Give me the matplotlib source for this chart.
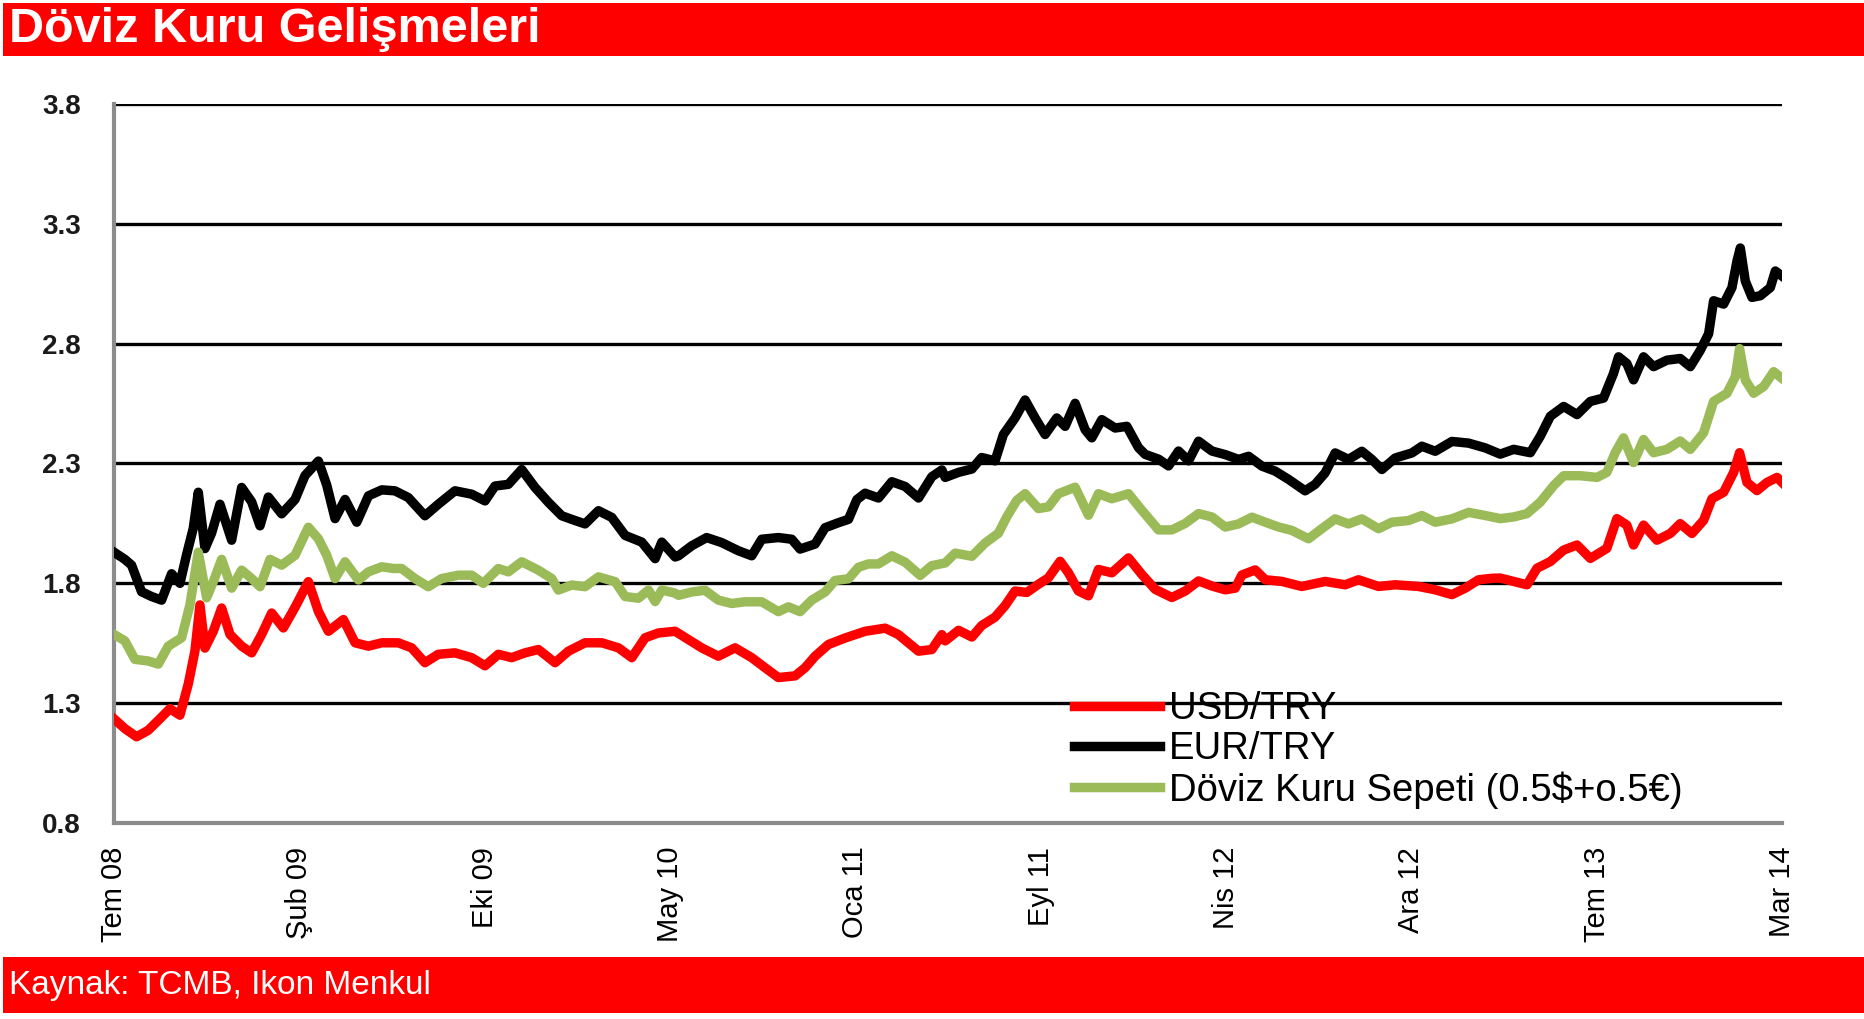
import matplotlib.pyplot as plt
from matplotlib.patches import Rectangle

plt.rcParams['font.family'] = ['Liberation Sans', 'DejaVu Sans']

# x ekseni: 0..9 arası, her birim bir etiket aralığı
etiketler = ['Tem 08', 'Şub 09', 'Eki 09', 'May 10', 'Oca 11',
             'Eyl 11', 'Nis 12', 'Ara 12', 'Tem 13', 'Mar 14']
yticks = [0.8, 1.3, 1.8, 2.3, 2.8, 3.3, 3.8]

# EUR/TRY
eur_t = [0.0, 0.059, 0.095, 0.149, 0.203, 0.257, 0.311, 0.356, 0.392, 0.428, 0.455, 0.491, 0.527, 0.572,
         0.635, 0.689, 0.743, 0.788, 0.833, 0.905, 0.977, 1.031, 1.103, 1.148, 1.193, 1.247, 1.310, 1.373,
         1.445, 1.516, 1.588, 1.678, 1.750, 1.840, 1.930, 2.002, 2.056, 2.128, 2.200, 2.272, 2.344, 2.416,
         2.488, 2.542, 2.614, 2.686, 2.758, 2.848, 2.920, 2.956, 3.028, 3.046, 3.118, 3.198, 3.279, 3.369,
         3.441, 3.495, 3.585, 3.657, 3.702, 3.783, 3.837, 3.909, 3.963, 4.008, 4.053, 4.125, 4.197, 4.269,
         4.341, 4.413, 4.467, 4.485, 4.557, 4.629, 4.682, 4.754, 4.799, 4.862, 4.916, 4.970, 5.024, 5.087,
         5.132, 5.186, 5.240, 5.276, 5.330, 5.402, 5.465, 5.528, 5.564, 5.636, 5.690, 5.744, 5.798, 5.852,
         5.924, 5.996, 6.068, 6.122, 6.194, 6.266, 6.337, 6.427, 6.481, 6.535, 6.589, 6.661, 6.733, 6.787,
         6.841, 6.913, 7.003, 7.057, 7.129, 7.219, 7.309, 7.399, 7.480, 7.552, 7.642, 7.696, 7.750, 7.822,
         7.894, 7.966, 8.037, 8.091, 8.118, 8.163, 8.199, 8.253, 8.307, 8.379, 8.451, 8.505, 8.559, 8.604,
         8.631, 8.685, 8.730, 8.757, 8.775, 8.802, 8.838, 8.883, 8.937, 8.964, 9.0]
eur = [1.93, 1.90, 1.876, 1.765, 1.745, 1.73, 1.84, 1.80, 1.92, 2.03, 2.18, 1.945, 2.01, 2.13,
       1.98, 2.20, 2.14, 2.04, 2.16, 2.09, 2.15, 2.25, 2.31, 2.21, 2.07, 2.15, 2.055, 2.165,
       2.19, 2.186, 2.158, 2.082, 2.13, 2.186, 2.172, 2.144, 2.206, 2.213, 2.275, 2.20, 2.138, 2.082,
       2.062, 2.048, 2.103, 2.075, 2.0, 1.972, 1.903, 1.972, 1.91, 1.915, 1.957, 1.991, 1.97, 1.936,
       1.915, 1.984, 1.991, 1.984, 1.943, 1.964, 2.032, 2.053, 2.067, 2.149, 2.176, 2.156, 2.224, 2.204,
       2.156, 2.245, 2.273, 2.242, 2.263, 2.277, 2.325, 2.311, 2.421, 2.49, 2.565, 2.49, 2.421, 2.49,
       2.455, 2.551, 2.441, 2.407, 2.483, 2.448, 2.455, 2.366, 2.338, 2.318, 2.29, 2.352, 2.311, 2.393,
       2.352, 2.337, 2.317, 2.33, 2.289, 2.268, 2.234, 2.186, 2.213, 2.261, 2.344, 2.317, 2.351, 2.317,
       2.275, 2.323, 2.344, 2.372, 2.351, 2.392, 2.385, 2.365, 2.339, 2.359, 2.345, 2.414, 2.497, 2.538,
       2.504, 2.559, 2.573, 2.676, 2.745, 2.717, 2.649, 2.745, 2.704, 2.731, 2.738, 2.704, 2.772, 2.841,
       2.979, 2.965, 3.034, 3.144, 3.199, 3.061, 2.993, 3.0, 3.034, 3.103, 3.082]

# Döviz kuru sepeti
sepet_t = [0.0, 0.059, 0.113, 0.185, 0.239, 0.293, 0.365, 0.410, 0.455, 0.500, 0.536, 0.581, 0.635, 0.689,
           0.743, 0.788, 0.842, 0.905, 0.977, 1.049, 1.103, 1.148, 1.193, 1.247, 1.319, 1.373, 1.445, 1.508,
           1.552, 1.624, 1.696, 1.768, 1.858, 1.930, 1.993, 2.074, 2.128, 2.200, 2.290, 2.362, 2.398, 2.470,
           2.542, 2.614, 2.704, 2.758, 2.830, 2.884, 2.920, 2.956, 3.028, 3.046, 3.118, 3.189, 3.261, 3.333,
           3.405, 3.495, 3.585, 3.639, 3.702, 3.765, 3.837, 3.891, 3.963, 4.017, 4.071, 4.125, 4.197, 4.269,
           4.350, 4.413, 4.485, 4.539, 4.629, 4.700, 4.772, 4.817, 4.871, 4.916, 4.988, 5.042, 5.096, 5.186,
           5.258, 5.312, 5.384, 5.474, 5.546, 5.636, 5.708, 5.780, 5.852, 5.924, 5.996, 6.068, 6.140, 6.212,
           6.284, 6.355, 6.445, 6.517, 6.589, 6.661, 6.733, 6.823, 6.895, 6.985, 7.057, 7.129, 7.219, 7.309,
           7.399, 7.480, 7.552, 7.624, 7.696, 7.768, 7.822, 7.912, 8.002, 8.055, 8.100, 8.145, 8.199, 8.253,
           8.307, 8.379, 8.451, 8.505, 8.577, 8.631, 8.703, 8.748, 8.771, 8.802, 8.847, 8.901, 8.955, 9.0]
sepet = [1.587, 1.56, 1.483, 1.476, 1.463, 1.538, 1.573, 1.71, 1.93, 1.74, 1.807, 1.90, 1.78, 1.855,
         1.82, 1.786, 1.90, 1.876, 1.917, 2.034, 1.986, 1.917, 1.82, 1.89, 1.814, 1.848, 1.869, 1.862,
         1.862, 1.82, 1.786, 1.82, 1.834, 1.834, 1.80, 1.862, 1.848, 1.89, 1.855, 1.82, 1.772, 1.793,
         1.786, 1.827, 1.807, 1.745, 1.738, 1.772, 1.724, 1.772, 1.759, 1.75, 1.764, 1.771, 1.73, 1.716,
         1.723, 1.723, 1.682, 1.702, 1.682, 1.73, 1.764, 1.812, 1.819, 1.867, 1.881, 1.881, 1.915, 1.888,
         1.833, 1.874, 1.885, 1.926, 1.913, 1.968, 2.009, 2.077, 2.146, 2.174, 2.112, 2.119, 2.174, 2.201,
         2.084, 2.174, 2.153, 2.174, 2.105, 2.023, 2.023, 2.05, 2.091, 2.077, 2.035, 2.048, 2.076, 2.055,
         2.035, 2.021, 1.986, 2.028, 2.069, 2.048, 2.069, 2.028, 2.055, 2.062, 2.083, 2.055, 2.069, 2.096,
         2.083, 2.07, 2.077, 2.091, 2.139, 2.208, 2.249, 2.249, 2.242, 2.263, 2.345, 2.407, 2.304, 2.40,
         2.345, 2.359, 2.394, 2.359, 2.428, 2.559, 2.593, 2.662, 2.779, 2.648, 2.593, 2.621, 2.683, 2.655]

# USD/TRY
usd_t = [0.0, 0.059, 0.122, 0.185, 0.248, 0.302, 0.356, 0.401, 0.437, 0.464, 0.491, 0.536, 0.581, 0.626,
         0.689, 0.743, 0.797, 0.851, 0.914, 0.977, 1.049, 1.103, 1.157, 1.238, 1.301, 1.373, 1.445, 1.534,
         1.606, 1.678, 1.750, 1.840, 1.930, 2.002, 2.074, 2.146, 2.218, 2.290, 2.380, 2.452, 2.542, 2.632,
         2.722, 2.794, 2.866, 2.938, 3.028, 3.100, 3.171, 3.261, 3.351, 3.441, 3.513, 3.585, 3.675, 3.729,
         3.783, 3.855, 3.945, 4.053, 4.161, 4.233, 4.341, 4.413, 4.467, 4.485, 4.557, 4.629, 4.682, 4.754,
         4.808, 4.862, 4.925, 4.988, 5.042, 5.105, 5.150, 5.204, 5.258, 5.312, 5.384, 5.474, 5.546, 5.618,
         5.708, 5.780, 5.852, 5.924, 5.996, 6.050, 6.086, 6.158, 6.212, 6.302, 6.409, 6.535, 6.643, 6.715,
         6.823, 6.913, 7.039, 7.129, 7.219, 7.291, 7.363, 7.435, 7.480, 7.552, 7.624, 7.678, 7.750, 7.822,
         7.894, 7.966, 8.055, 8.109, 8.163, 8.199, 8.253, 8.325, 8.397, 8.451, 8.514, 8.577, 8.622, 8.685,
         8.739, 8.771, 8.811, 8.865, 8.919, 8.973, 9.0]
usd = [1.235, 1.194, 1.16, 1.187, 1.235, 1.277, 1.25, 1.38, 1.518, 1.71, 1.53, 1.60, 1.697, 1.587,
       1.538, 1.51, 1.587, 1.676, 1.614, 1.70, 1.807, 1.683, 1.60, 1.649, 1.552, 1.538, 1.552, 1.552,
       1.531, 1.469, 1.504, 1.51, 1.49, 1.456, 1.504, 1.49, 1.51, 1.524, 1.469, 1.517, 1.552, 1.552,
       1.531, 1.49, 1.573, 1.593, 1.60, 1.565, 1.531, 1.496, 1.531, 1.49, 1.448, 1.407, 1.414, 1.448,
       1.496, 1.545, 1.572, 1.60, 1.613, 1.586, 1.517, 1.524, 1.586, 1.56, 1.604, 1.576, 1.624, 1.659,
       1.707, 1.768, 1.762, 1.796, 1.823, 1.892, 1.844, 1.768, 1.748, 1.858, 1.844, 1.906, 1.837, 1.775,
       1.741, 1.768, 1.81, 1.789, 1.773, 1.78, 1.835, 1.856, 1.815, 1.808, 1.787, 1.808, 1.794, 1.815,
       1.787, 1.794, 1.787, 1.773, 1.753, 1.78, 1.815, 1.821, 1.822, 1.808, 1.794, 1.863, 1.891, 1.939,
       1.96, 1.904, 1.946, 2.07, 2.043, 1.96, 2.043, 1.98, 2.008, 2.049, 2.008, 2.063, 2.153, 2.18,
       2.263, 2.345, 2.221, 2.187, 2.221, 2.242, 2.221]

fig = plt.figure(figsize=(18.65, 10.19), dpi=100)

# üst ve alt kırmızı bantlar
fig.add_artist(Rectangle((0.0015, 0.945), 0.9985, 0.052, transform=fig.transFigure,
                         facecolor='#ff0000', edgecolor='none'))
fig.text(0.005, 0.971, 'Döviz Kuru Gelişmeleri', color='white', fontsize=35,
         fontweight='bold', va='center', ha='left')
fig.add_artist(Rectangle((0.0015, 0.006), 0.9985, 0.055, transform=fig.transFigure,
                         facecolor='#ff0000', edgecolor='none'))
fig.text(0.005, 0.033, 'Kaynak: TCMB, Ikon Menkul', color='white', fontsize=24,
         va='center', ha='left')

ax = fig.add_axes([0.0611, 0.1923, 0.8944, 0.7057])
ax.plot(usd_t, usd, color='#ff0000', lw=6.8, solid_joinstyle='round', label='USD/TRY', zorder=3)
ax.plot(eur_t, eur, color='black', lw=6.8, solid_joinstyle='round', label='EUR/TRY', zorder=3)
ax.plot(sepet_t, sepet, color='#9bbb59', lw=6.8, solid_joinstyle='round',
        label='Döviz Kuru Sepeti (0.5$+o.5€)', zorder=3)

ax.set_xlim(0, 9)
ax.set_ylim(0.8, 3.8)
ax.set_yticks(yticks)
ax.set_yticklabels([f'{v:.1f}' for v in yticks], fontsize=20, fontweight='bold', color='#1a1a1a')
ax.set_xticks(range(len(etiketler)))
ax.set_xticklabels(etiketler, rotation=90, fontsize=21, va='top', ha='center')
ax.tick_params(axis='y', length=0, pad=24)
ax.tick_params(axis='x', length=0, pad=17)

ax.grid(axis='y', color='black', lw=2.4)
ax.get_ygridlines()[0].set_visible(False)
ax.set_axisbelow(True)

for s in ['top', 'right']:
    ax.spines[s].set_visible(False)
for s in ['left', 'bottom']:
    ax.spines[s].set_color('#8c8c8c')
    ax.spines[s].set_linewidth(3)

ax.legend(loc='upper left', bbox_to_anchor=(0.5755, 0.183), frameon=False, fontsize=27.5,
          handlelength=2.25, handletextpad=0.24, labelspacing=0.1, borderpad=0,
          borderaxespad=0)

fig.savefig('out.png', dpi=100)
